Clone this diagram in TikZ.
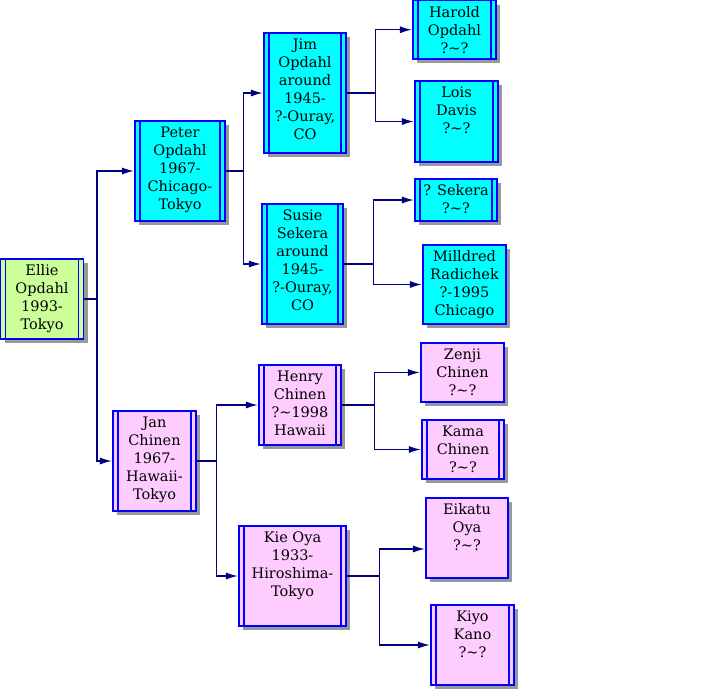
\documentclass[tikz,border=0pt]{standalone}
\usepackage{fontspec}
\usepackage{tikz}
\usetikzlibrary{arrows.meta}
\usetikzlibrary{shadows}
\newfontfamily\treefont{DejaVu Serif}
\definecolor{linknavy}{RGB}{0,0,128}
\definecolor{boxblue}{RGB}{0,0,255}
\definecolor{opdahlcyan}{RGB}{0,255,255}
\definecolor{elliegreen}{RGB}{204,255,153}
\definecolor{chinenpink}{RGB}{255,204,255}
\definecolor{shadowgray}{RGB}{153,153,153}

\begin{document}
\begin{tikzpicture}[x=1pt,y=-1pt,line cap=butt,line join=miter,
    person/.style={draw=boxblue, line width=1.2pt, inner sep=0pt, minimum width=83pt,
      drop shadow={shadow xshift=4pt, shadow yshift=-4pt, fill=shadowgray, opacity=1}},
    dbl/.style={path picture={
      \draw[boxblue, line width=1.2pt]
        ([xshift=5pt]path picture bounding box.north west) -- ([xshift=5pt]path picture bounding box.south west)
        ([xshift=-5pt]path picture bounding box.north east) -- ([xshift=-5pt]path picture bounding box.south east);}},
    every label/.style={align=center, inner sep=0pt, text=black, anchor=north, yshift=-6pt,
      font=\treefont\fontsize{14.5}{18}\selectfont},
    link/.style={draw=linknavy, line width=1.3pt, -{Latex[length=12pt,width=7pt]}, shorten >=0.5pt}]
    \useasboundingbox (0,0) rectangle (702,689);
    % generation 1
    \node[person, dbl, fill=elliegreen, minimum height=80pt, label={north:{Ellie\\Opdahl\\1993-\\Tokyo}}] (ellie) at (42,299) {};
    % generation 2
    \node[person, dbl, fill=opdahlcyan, minimum width=90pt, minimum height=100pt, label={north:{Peter\\Opdahl\\1967-\\Chicago-\\Tokyo}}] (peter) at (180,171) {};
    \node[person, dbl, fill=chinenpink, minimum height=100pt, label={north:{Jan\\Chinen\\1967-\\Hawaii-\\Tokyo}}] (jan) at (154.5,461) {};
    % generation 3
    \node[person, dbl, fill=opdahlcyan, minimum width=82pt, minimum height=120pt, label={north:{Jim\\Opdahl\\around\\1945-\\?-Ouray,\\CO}}] (jim) at (305,93) {};
    \node[person, dbl, fill=opdahlcyan, minimum width=81pt, minimum height=120pt, label={north:{Susie\\Sekera\\around\\1945-\\?-Ouray,\\CO}}] (susie) at (302.5,264) {};
    \node[person, dbl, fill=chinenpink, minimum width=82pt, minimum height=80pt, label={north:{Henry\\Chinen\\?\textasciitilde1998\\Hawaii}}] (henry) at (300,405) {};
    \node[person, dbl, fill=chinenpink, minimum width=107pt, minimum height=100pt, label={north:{Kie Oya\\1933-\\Hiroshima-\\Tokyo}}] (kie) at (292.5,576) {};
    % generation 4
    \node[person, dbl, fill=opdahlcyan, minimum height=58.5pt, label={north:{Harold\\Opdahl\\?\textasciitilde?}}] (harold) at (454.5,29.75) {};
    \node[person, dbl, fill=opdahlcyan, minimum height=81pt, label={north:{Lois\\Davis\\?\textasciitilde?}}] (lois) at (456.5,121.5) {};
    \node[person, dbl, fill=opdahlcyan, minimum width=82pt, minimum height=42pt, label={north:{? Sekera\\?\textasciitilde?}}] (sekera) at (456,200) {};
    \node[person, fill=opdahlcyan, minimum height=79pt, label={north:{Milldred\\Radichek\\?-1995\\Chicago}}] (milldred) at (464.5,284.5) {};
    \node[person, fill=chinenpink, minimum height=59pt, label={north:{Zenji\\Chinen\\?\textasciitilde?}}] (zenji) at (462.5,372.5) {};
    \node[person, dbl, fill=chinenpink, minimum width=82pt, minimum height=59pt, label={north:{Kama\\Chinen\\?\textasciitilde?}}] (kama) at (463,449.5) {};
    \node[person, fill=chinenpink, minimum width=82pt, minimum height=80pt, label={north:{Eikatu\\Oya\\?\textasciitilde?}}] (eikatu) at (467,538) {};
    \node[person, dbl, fill=chinenpink, minimum height=80pt, label={north:{Kiyo\\Kano\\?\textasciitilde?}}] (kiyo) at (472.5,645) {};
    % parents
    \draw[link] (ellie.east) -- ++(13,0) |- (peter.west);
    \draw[link] (ellie.east) -- ++(13,0) |- (jan.west);
    \draw[link] (peter.east) -- ++(18,0) |- (jim.west);
    \draw[link] (peter.east) -- ++(18,0) |- (susie.west);
    \draw[link] (jan.east) -- ++(20,0) |- (henry.west);
    \draw[link] (jan.east) -- ++(20,0) |- (kie.west);
    \draw[link] (jim.east) -- ++(29,0) |- (harold.west);
    \draw[link] (jim.east) -- ++(29,0) |- (lois.west);
    \draw[link] (susie.east) -- ++(30,0) |- (sekera.west);
    \draw[link] (susie.east) -- ++(30,0) |- (milldred.west);
    \draw[link] (henry.east) -- ++(33,0) |- (zenji.west);
    \draw[link] (henry.east) -- ++(33,0) |- (kama.west);
    \draw[link] (kie.east) -- ++(33,0) |- ([yshift=-11pt]eikatu.west);
    \draw[link] (kie.east) -- ++(33,0) |- (kiyo.west);
\end{tikzpicture}
\end{document}
